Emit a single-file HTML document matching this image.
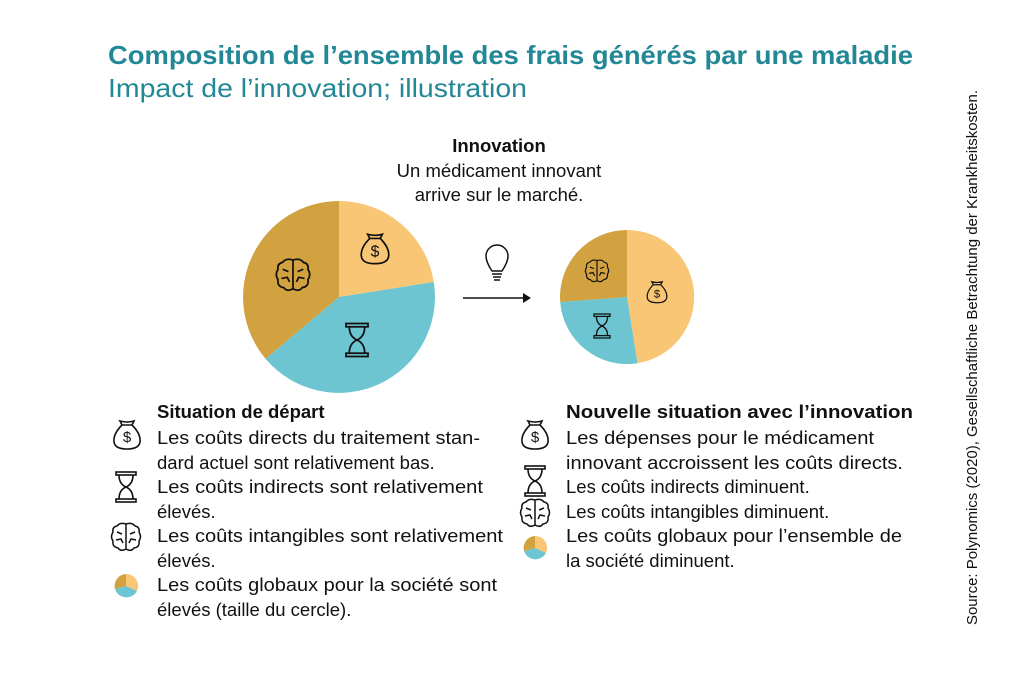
<!DOCTYPE html>
<html><head><meta charset="utf-8"><style>
body{margin:0;background:#fff}
svg{display:block}
text{font-family:"Liberation Sans",Arial,sans-serif;fill:#111}
</style></head><body>
<svg width="1024" height="683" viewBox="0 0 1024 683" xmlns="http://www.w3.org/2000/svg">
<defs>
<g id="bag" fill="none" stroke="#111" stroke-width="1.6">
<path d="M-5,-11 L-7,-15 Q0,-13 7,-15 L5,-11 Z"/>
<path d="M-5,-11 Q-14,-2 -13,6 Q-12,13 0,13 Q12,13 13,6 Q14,-2 5,-11"/>
<text x="0" y="6" text-anchor="middle" font-size="15" fill="#111" stroke="none">$</text>
</g>
<g id="glass" fill="none" stroke="#111" stroke-width="1.6">
<rect x="-10" y="-15" width="20" height="3"/><rect x="-10" y="12" width="20" height="3"/>
<path d="M-7,-12 Q-7,-3 0,0 Q7,-3 7,-12 M-7,12 Q-7,3 0,0 Q7,3 7,12"/>
</g>
<g id="brain" fill="none" stroke="#111" stroke-width="1.5">
<path d="M0,-13 Q-6,-15 -9,-11 Q-14,-10 -13,-5 Q-16,0 -13,4 Q-14,10 -8,11 Q-5,15 0,12 Q5,15 8,11 Q14,10 13,4 Q16,0 13,-5 Q14,-10 9,-11 Q6,-15 0,-13 Z M0,-13 V12 M-9,-5 L-4,-3 M-10,3 L-5,2 L-3,6 M9,-5 L4,-3 M10,3 L5,2 L3,6"/>
</g>
</defs>

<text x="108" y="64" font-size="26" font-weight="bold" style="fill:#228896" textLength="805" lengthAdjust="spacingAndGlyphs">Composition de l’ensemble des frais générés par une maladie</text>
<text x="108" y="97" font-size="26" style="fill:#228896" textLength="419" lengthAdjust="spacingAndGlyphs">Impact de l’innovation; illustration</text>

<text x="499" y="152" font-size="18.5" font-weight="bold" text-anchor="middle">Innovation</text>
<text x="499" y="177" font-size="18.5" text-anchor="middle">Un médicament innovant</text>
<text x="499" y="201" font-size="18.5" text-anchor="middle">arrive sur le marché.</text>

<path d="M339,297 L339,201 A96,96 0 0 1 433.8,282 Z" fill="#f9c676"/>
<path d="M339,297 L433.8,282 A96,96 0 0 1 265.5,358.7 Z" fill="#6cc5d0"/>
<path d="M339,297 L265.5,358.7 A96,96 0 0 1 339,201 Z" fill="#d1a23f"/>
<use href="#bag" transform="translate(375,250) scale(1.05)"/>
<use href="#glass" transform="translate(357,340) scale(1.1)"/>
<use href="#brain" transform="translate(293,275) scale(1.15)"/>

<g fill="none" stroke="#111" stroke-width="1.5">
<path d="M492,271 Q486,262 486,256 A11,11 0 1 1 508,256 Q508,262 502,271 Z"/>
<path d="M492,274 H502 M493,277 H501 M494,280 H500"/>
<path d="M463,298 H524"/>
</g>
<path d="M523,293 L531,298 L523,303 Z" fill="#111"/>

<path d="M627,297 L627,230 A67,67 0 0 1 637.5,363.2 Z" fill="#f9c676"/>
<path d="M627,297 L637.5,363.2 A67,67 0 0 1 560.2,302 Z" fill="#6cc5d0"/>
<path d="M627,297 L560.2,302 A67,67 0 0 1 627,230 Z" fill="#d1a23f"/>
<use href="#bag" transform="translate(657,293) scale(0.75)"/>
<use href="#glass" transform="translate(602,326) scale(0.8)"/>
<use href="#brain" transform="translate(597,271) scale(0.8)"/>

<text x="157" y="418" font-size="18.5" font-weight="bold">Situation de départ</text>
<g font-size="18.5">
<text x="157" y="444" textLength="323" lengthAdjust="spacingAndGlyphs">Les coûts directs du traitement stan-</text>
<text x="157" y="469">dard actuel sont relativement bas.</text>
<text x="157" y="493" textLength="326" lengthAdjust="spacingAndGlyphs">Les coûts indirects sont relativement</text>
<text x="157" y="518">élevés.</text>
<text x="157" y="542" textLength="346" lengthAdjust="spacingAndGlyphs">Les coûts intangibles sont relativement</text>
<text x="157" y="567">élevés.</text>
<text x="157" y="591" textLength="340" lengthAdjust="spacingAndGlyphs">Les coûts globaux pour la société sont</text>
<text x="157" y="616">élevés (taille du cercle).</text>
</g>
<use href="#bag" transform="translate(127,436)"/>
<use href="#glass" transform="translate(126,487)"/>
<use href="#brain" transform="translate(126,537)"/>
<g transform="translate(126,586)">
<path d="M0,0 L0,-12 A12,12 0 0 1 11,5 Z" fill="#f9c676"/>
<path d="M0,0 L11,5 A12,12 0 0 1 -11,3 Z" fill="#6cc5d0"/>
<path d="M0,0 L-11,3 A12,12 0 0 1 0,-12 Z" fill="#d1a23f"/>
</g>

<text x="566" y="418" font-size="18.5" font-weight="bold" textLength="347" lengthAdjust="spacingAndGlyphs">Nouvelle situation avec l’innovation</text>
<g font-size="18.5">
<text x="566" y="444" textLength="308" lengthAdjust="spacingAndGlyphs">Les dépenses pour le médicament</text>
<text x="566" y="469" textLength="337" lengthAdjust="spacingAndGlyphs">innovant accroissent les coûts directs.</text>
<text x="566" y="493">Les coûts indirects diminuent.</text>
<text x="566" y="518">Les coûts intangibles diminuent.</text>
<text x="566" y="542" textLength="336" lengthAdjust="spacingAndGlyphs">Les coûts globaux pour l’ensemble de</text>
<text x="566" y="567">la société diminuent.</text>
</g>
<use href="#bag" transform="translate(535,436)"/>
<use href="#glass" transform="translate(535,481)"/>
<use href="#brain" transform="translate(535,513)"/>
<g transform="translate(535,548)">
<path d="M0,0 L0,-12 A12,12 0 0 1 11,5 Z" fill="#f9c676"/>
<path d="M0,0 L11,5 A12,12 0 0 1 -11,3 Z" fill="#6cc5d0"/>
<path d="M0,0 L-11,3 A12,12 0 0 1 0,-12 Z" fill="#d1a23f"/>
</g>

<text transform="translate(977,625) rotate(-90)" font-size="15" textLength="535" lengthAdjust="spacingAndGlyphs">Source: Polynomics (2020), Gesellschaftliche Betrachtung der Krankheitskosten.</text>
</svg>
</body></html>
